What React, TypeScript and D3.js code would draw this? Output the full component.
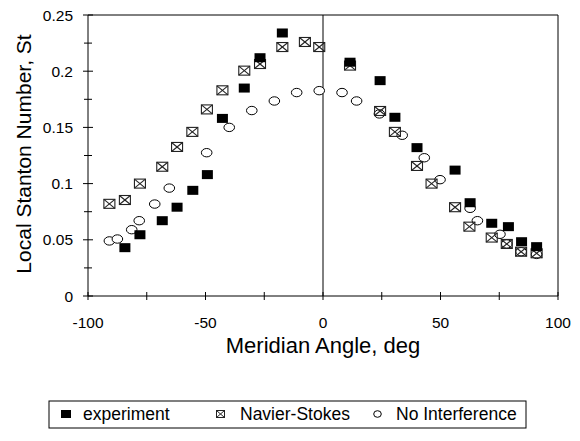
import React from "react";
import * as d3 from "d3";

const expX = [-84.3, -77.9, -68.4, -62.1, -55.4, -49.2, -42.8, -33.5, -26.8, -17.3, 11.5, 24.3, 30.6, 40, 56.2, 62.6, 71.8, 78.9, 84.5, 90.9];
const expY = [0.043, 0.0545, 0.067, 0.079, 0.094, 0.108, 0.158, 0.185, 0.212, 0.234, 0.208, 0.1916, 0.159, 0.132, 0.112, 0.083, 0.0647, 0.0617, 0.0483, 0.0439];

const nsX = [-90.9, -84.3, -77.9, -68.4, -62.1, -55.6, -49.4, -42.8, -33.5, -26.8, -17.3, -7.7, -1.6, 11.5, 24.3, 30.6, 40, 46.2, 56.2, 62.3, 71.8, 78.2, 84.3, 90.9];
const nsY = [0.082, 0.0854, 0.1, 0.115, 0.1326, 0.146, 0.166, 0.183, 0.2005, 0.2064, 0.2215, 0.226, 0.2215, 0.205, 0.1646, 0.146, 0.1157, 0.1, 0.079, 0.0617, 0.052, 0.0463, 0.0394, 0.038];

const niX = [-90.9, -87.5, -81.4, -78.2, -71.6, -65.4, -49.5, -39.9, -30.3, -20.7, -11.2, -1.6, 8.1, 14.3, 24, 33.7, 43.1, 49.8, 62.6, 65.7, 75.3, 78.2, 84.3, 90.9];
const niY = [0.049, 0.0507, 0.059, 0.067, 0.0818, 0.096, 0.1275, 0.15, 0.165, 0.1735, 0.181, 0.1827, 0.181, 0.1735, 0.162, 0.143, 0.123, 0.1035, 0.078, 0.067, 0.0549, 0.0463, 0.0394, 0.037];

const xTicks = [-100, -50, 0, 50, 100];
const xMinor = [-100, -75, -50, -25, 0, 25, 50, 75, 100];
const yTicks = [0, 0.05, 0.1, 0.15, 0.2, 0.25];
const yMinor = [0.025, 0.075, 0.125, 0.175, 0.225];
const legendLabels = ["experiment", "Navier-Stokes", "No Interference"];

const FONT = "'Liberation Sans', Arial, sans-serif";

export default function App() {
  const x = d3.scaleLinear().domain([-100, 100]).range([88, 558]);
  const y = d3.scaleLinear().domain([0, 0.25]).range([296, 15]);
  const mw = 11, mh = 9;

  return (
    <svg width={580} height={441} style={{ position: "absolute", left: 0, top: 0, background: "#fff" }} fontFamily={FONT}>
      <rect x={0} y={0} width={580} height={441} fill="#fff" />
      {/* frame */}
      <line x1={x(-100)} x2={x(100)} y1={y(0.25)} y2={y(0.25)} stroke="#000" strokeWidth={1} />
      <line x1={x(100)} x2={x(100)} y1={y(0.25)} y2={y(0)} stroke="#000" strokeWidth={1} />
      <line x1={x(-100)} x2={x(-100)} y1={y(0.25)} y2={y(0)} stroke="#000" strokeWidth={1} />
      <line x1={x(-100)} x2={x(100)} y1={y(0)} y2={y(0)} stroke="#000" strokeWidth={1} />
      <line x1={x(0)} x2={x(0)} y1={y(0.25)} y2={y(0)} stroke="#000" strokeWidth={1} />
      {/* y ticks */}
      {yTicks.map((t) => (
        <g key={"yt" + t}>
          <line x1={x(-100) - 5} x2={x(-100) + 5} y1={y(t)} y2={y(t)} stroke="#000" />
          <text x={x(-100) - 15} y={y(t)} dy="0.36em" textAnchor="end" fontSize={15.5}>{String(t)}</text>
        </g>
      ))}
      {yMinor.map((t) => (
        <line key={"ym" + t} x1={x(-100) - 4} x2={x(-100) + 4} y1={y(t)} y2={y(t)} stroke="#000" />
      ))}
      {/* x ticks */}
      {xMinor.map((t) => (
        <line key={"xm" + t} x1={x(t)} x2={x(t)} y1={y(0) - 4} y2={y(0) + 4} stroke="#000" />
      ))}
      {xTicks.map((t) => (
        <text key={"xt" + t} x={x(t)} y={328} textAnchor="middle" fontSize={15.5}>{String(t)}</text>
      ))}
      {/* axis titles */}
      <text x={x(0)} y={353} textAnchor="middle" fontSize={22}>Meridian Angle, deg</text>
      <text transform={`translate(31,154) rotate(-90)`} textAnchor="middle" fontSize={21}>Local Stanton Number, St</text>

      {/* No Interference */}
      {niX.map((v, i) => (
        <ellipse key={"ni" + i} cx={x(v)} cy={y(niY[i])} rx={5.3} ry={4.2} fill="#fff" stroke="#000" strokeWidth={1} />
      ))}
      {/* Navier-Stokes */}
      {nsX.map((v, i) => {
        const cx = x(v), cy = y(nsY[i]);
        return (
          <g key={"ns" + i} stroke="#222" strokeWidth={1.1} fill="none">
            <rect x={cx - mw / 2} y={cy - mh / 2} width={mw} height={mh} />
            <line x1={cx - mw / 2} y1={cy - mh / 2} x2={cx + mw / 2} y2={cy + mh / 2} />
            <line x1={cx - mw / 2} y1={cy + mh / 2} x2={cx + mw / 2} y2={cy - mh / 2} />
          </g>
        );
      })}
      {/* experiment */}
      {expX.map((v, i) => (
        <rect key={"ex" + i} x={x(v) - mw / 2} y={y(expY[i]) - mh / 2} width={mw} height={mh} fill="#000" />
      ))}

      {/* legend */}
      <rect x={49} y={401} width={477} height={27} fill="#fff" stroke="#000" strokeWidth={1} />
      <rect x={61} y={410} width={10} height={8} fill="#000" />
      <text x={83} y={420} fontSize={17.5}>{legendLabels[0]}</text>
      <g stroke="#222" strokeWidth={1} fill="none">
        <rect x={216.5} y={410.5} width={8} height={7} />
        <line x1={216.5} y1={410.5} x2={224.5} y2={417.5} />
        <line x1={216.5} y1={417.5} x2={224.5} y2={410.5} />
      </g>
      <text x={240} y={420} fontSize={17.5}>{legendLabels[1]}</text>
      <ellipse cx={377.5} cy={414} rx={3.8} ry={3.3} fill="#fff" stroke="#000" />
      <text x={396} y={420} fontSize={17.5}>{legendLabels[2]}</text>
    </svg>
  );
}
